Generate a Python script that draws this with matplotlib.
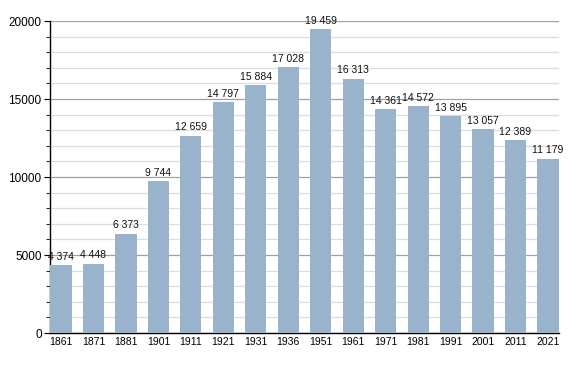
import matplotlib
matplotlib.use("Agg")
import matplotlib.pyplot as plt
from matplotlib.ticker import MultipleLocator

years = ["1861", "1871", "1881", "1901", "1911", "1921", "1931", "1936",
         "1951", "1961", "1971", "1981", "1991", "2001", "2011", "2021"]
population = [4374, 4448, 6373, 9744, 12659, 14797, 15884, 17028,
              19459, 16313, 14361, 14572, 13895, 13057, 12389, 11179]

plt.rcParams["font.family"] = ["Liberation Sans", "DejaVu Sans"]

fig = plt.figure(figsize=(5.88, 3.73), dpi=100)
ax = fig.add_axes([50 / 588, 1 - 333 / 373, 509 / 588, 312 / 373])

xs = list(range(len(years)))
ax.bar(xs, population, width=0.65, color="#99b3cc", zorder=3)

for x, v in zip(xs, population):
    label = "{:,}".format(v).replace(",", " ")
    ax.text(x, v + 200, label, ha="center", va="bottom", fontsize=7.5, color="#111111", zorder=4)

ax.set_xlim(-0.34, len(years) - 0.66)
ax.set_ylim(0, 20000)
ax.set_xticks(xs)
ax.set_xticklabels(years, fontsize=7.5)
ax.tick_params(axis="x", length=0, pad=3)

ax.yaxis.set_major_locator(MultipleLocator(5000))
ax.yaxis.set_minor_locator(MultipleLocator(1000))
ax.tick_params(axis="y", which="major", length=4, labelsize=8.5, pad=2)
ax.tick_params(axis="y", which="minor", length=3)
ax.grid(axis="y", which="major", color="#a0a0a0", linewidth=0.9, zorder=1)
ax.grid(axis="y", which="minor", color="#dddddd", linewidth=0.9, zorder=0)

for side in ["top", "right"]:
    ax.spines[side].set_visible(False)
ax.spines["left"].set_linewidth(1.0)
ax.spines["bottom"].set_linewidth(1.0)

fig.savefig("out.png", dpi=100)
